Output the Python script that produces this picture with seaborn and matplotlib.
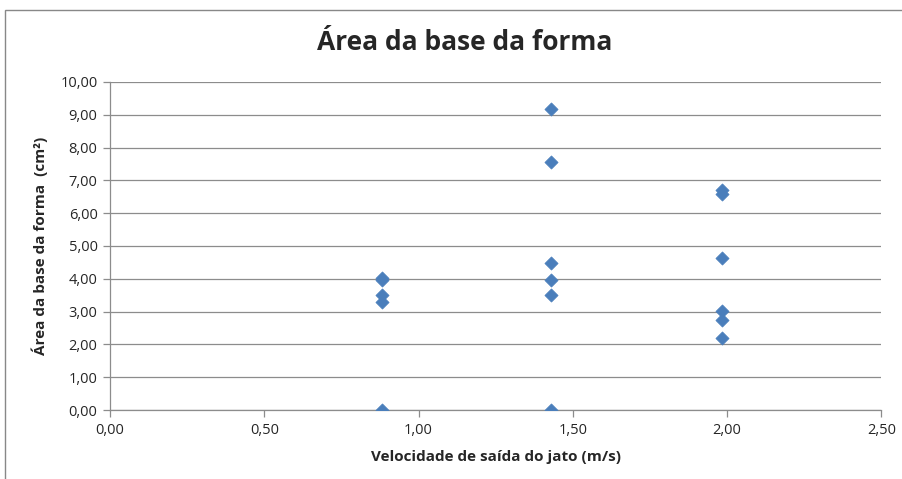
import pandas as pd
import seaborn as sns
import matplotlib.pyplot as plt
from matplotlib.patches import Rectangle
from matplotlib.ticker import FuncFormatter

# Data
velocidade = [0.88, 0.88, 0.88, 0.88, 0.88,
              1.43, 1.43, 1.43, 1.43, 1.43, 1.43,
              1.985, 1.985, 1.985, 1.985, 1.985, 1.985]
area = [4.02, 3.95, 3.52, 3.28, 0.0,
        9.18, 7.55, 4.47, 3.96, 3.51, 0.0,
        6.70, 6.57, 4.64, 3.03, 2.74, 2.18]

df = pd.DataFrame({'Velocidade': velocidade, 'Area': area})

sns.set_style('white')
plt.rcParams['font.family'] = ['Open Sans', 'DejaVu Sans']

fig = plt.figure(figsize=(9.02, 4.79), dpi=100)
ax = fig.add_axes([0.122, 0.144, 0.855, 0.685])

# outer chart border
fig.patches.append(Rectangle((0.006, -0.02), 1.2, 1.0, transform=fig.transFigure,
                             fill=False, edgecolor='#888888', linewidth=1.0))

sns.scatterplot(data=df, x='Velocidade', y='Area', marker='D', s=45,
                color='#4a7ebb', edgecolor='#4a7ebb', linewidth=0.5, ax=ax, zorder=3)

ax.set_xlim(0, 2.5)
ax.set_ylim(0, 10)
ax.set_xticks([0, 0.5, 1.0, 1.5, 2.0, 2.5])
ax.set_yticks(range(0, 11))
fmt = FuncFormatter(lambda v, p: f'{v:.2f}'.replace('.', ','))
ax.xaxis.set_major_formatter(fmt)
ax.yaxis.set_major_formatter(fmt)

ax.grid(axis='y', color='#8c8c8c', linewidth=0.9)
ax.set_axisbelow(True)
for side in ['top', 'right']:
    ax.spines[side].set_visible(False)
for side in ['left', 'bottom']:
    ax.spines[side].set_color('#8c8c8c')
    ax.spines[side].set_linewidth(0.9)
ax.tick_params(axis='both', which='major', direction='out', length=5, width=0.9,
               color='#8c8c8c', labelsize=10.5, pad=4, bottom=True, left=True)

ax.set_xlabel('Velocidade de saída do jato (m/s)', fontsize=11, fontweight='bold', labelpad=9)
ax.set_ylabel('Área da base da forma  (cm²)', fontsize=11, fontweight='bold', labelpad=9)
fig.suptitle('Área da base da forma', fontsize=19, fontweight='bold', x=0.515, y=0.94)

plt.savefig('out.png', dpi=100)
